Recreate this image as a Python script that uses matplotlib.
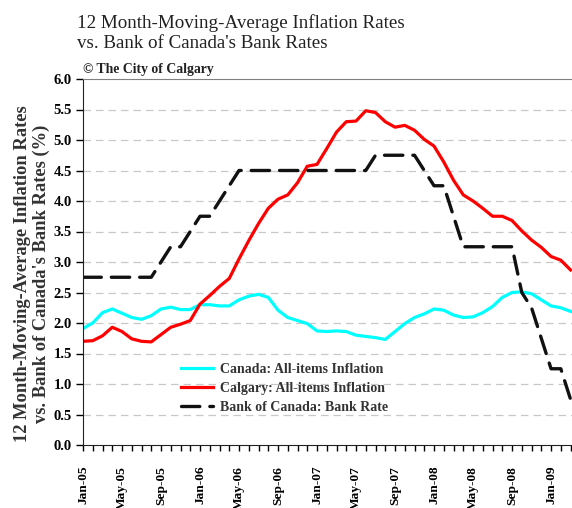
import numpy as np
from matplotlib import pyplot as plt

plt.rcParams['font.family'] = ['Liberation Serif', 'DejaVu Serif']

# monthly values, Jan-05 onwards
canada = [1.91, 2.00, 2.17, 2.23, 2.16, 2.09, 2.06, 2.12, 2.23, 2.26, 2.22, 2.22,
          2.30, 2.30, 2.28, 2.28, 2.38, 2.44, 2.47, 2.42, 2.21, 2.09, 2.04, 1.99,
          1.87, 1.86, 1.87, 1.86, 1.80, 1.78, 1.76, 1.73, 1.86, 1.99, 2.09, 2.15,
          2.23, 2.21, 2.13, 2.09, 2.10, 2.17, 2.27, 2.42, 2.50, 2.51, 2.48, 2.38,
          2.28, 2.25, 2.19]
calgary = [1.70, 1.71, 1.79, 1.93, 1.86, 1.74, 1.70, 1.69, 1.81, 1.93, 1.98, 2.04,
           2.31, 2.45, 2.60, 2.73, 3.05, 3.35, 3.63, 3.88, 4.03, 4.10, 4.30, 4.57,
           4.60, 4.86, 5.13, 5.30, 5.31, 5.48, 5.45, 5.30, 5.21, 5.24, 5.16, 5.01,
           4.90, 4.64, 4.34, 4.10, 4.00, 3.88, 3.75, 3.75, 3.68, 3.51, 3.36, 3.24,
           3.09, 3.03, 2.87]
bank_rate = [2.75, 2.75, 2.75, 2.75, 2.75, 2.75, 2.75, 2.75, 3.00, 3.25, 3.25, 3.50,
             3.75, 3.75, 4.00, 4.25, 4.50, 4.50, 4.50, 4.50, 4.50, 4.50, 4.50, 4.50,
             4.50, 4.50, 4.50, 4.50, 4.50, 4.50, 4.75, 4.75, 4.75, 4.75, 4.75, 4.50,
             4.25, 4.25, 3.75, 3.25, 3.25, 3.25, 3.25, 3.25, 3.25, 2.50, 2.25, 1.75,
             1.25, 1.25, 0.75, 0.50]
tick_labels = ['Jan-05', 'May-05', 'Sep-05', 'Jan-06', 'May-06', 'Sep-06', 'Jan-07',
               'May-07', 'Sep-07', 'Jan-08', 'May-08', 'Sep-08', 'Jan-09']

fig = plt.figure(figsize=(5.72, 5.08), dpi=100)
ax = fig.add_axes([83 / 572, 63 / 508, 489 / 572, 366 / 508])

ax.plot(np.arange(len(canada)), canada, color='#00FFFF', lw=2.3,
        label='Canada: All-items Inflation', solid_joinstyle='round')
ax.plot(np.arange(len(calgary)), calgary, color='#FF0000', lw=2.3,
        label='Calgary: All-items Inflation', solid_joinstyle='round')
bl, = ax.plot(np.arange(len(bank_rate)), bank_rate, color='#111111', lw=2.4,
              label='Bank of Canada: Bank Rate', dash_capstyle='round')
bl.set_dashes([5.5, 3])

ax.set_xlim(0, 50.15)
ax.set_ylim(0, 6)
ax.set_yticks(np.arange(0, 6.01, 0.5))
ax.set_yticklabels(['%.1f' % v for v in np.arange(0, 6.01, 0.5)],
                   fontsize=10.5, fontweight='bold')
ax.set_xticks(np.arange(0, 49, 4))
ax.set_xticklabels(tick_labels, rotation=90, fontsize=9.6, fontweight='bold')
ax.set_xticks(np.arange(0, 51), minor=True)
ax.tick_params(axis='y', direction='out', length=5, width=1, pad=3)
ax.tick_params(axis='x', which='both', direction='out', length=4, width=1, pad=11)

# grid
for v in np.arange(0.5, 6.0, 0.5):
    ax.axhline(v, color='#C8C8C8', lw=0.9, dashes=(6, 4), zorder=0)

ax.spines['right'].set_visible(False)
ax.spines['top'].set_color('#808080')
ax.spines['left'].set_color('#222222')
ax.spines['bottom'].set_color('#222222')

leg = ax.legend(loc='upper left', bbox_to_anchor=(0.2, 0.224), frameon=False,
                prop={'size': 10, 'weight': 'bold'}, handlelength=2.3,
                handletextpad=0.55, labelspacing=0.42, borderpad=0,
                borderaxespad=0)
for t in leg.get_texts():
    t.set_color('#333333')

fig.text(77 / 572, 1 - 33 / 508, "12 Month-Moving-Average Inflation Rates\nvs. Bank of Canada's Bank Rates",
         fontsize=13.7, va='center', ha='left', color='#222222', linespacing=1.22)
fig.text(83 / 572, 1 - 69 / 508, '\u00a9 The City of Calgary', fontsize=9.9,
         fontweight='bold', va='center', ha='left', color='#222222')
fig.text(32 / 572, 1 - 274 / 508,
         "12 Month-Moving-Average Inflation Rates\nvs. Bank of Canada's Bank Rates (%)",
         rotation=90, fontsize=13.3, fontweight='bold', ha='center', va='center',
         multialignment='center', color='#333333', linespacing=1.12)

fig.savefig('out.png', dpi=100)
